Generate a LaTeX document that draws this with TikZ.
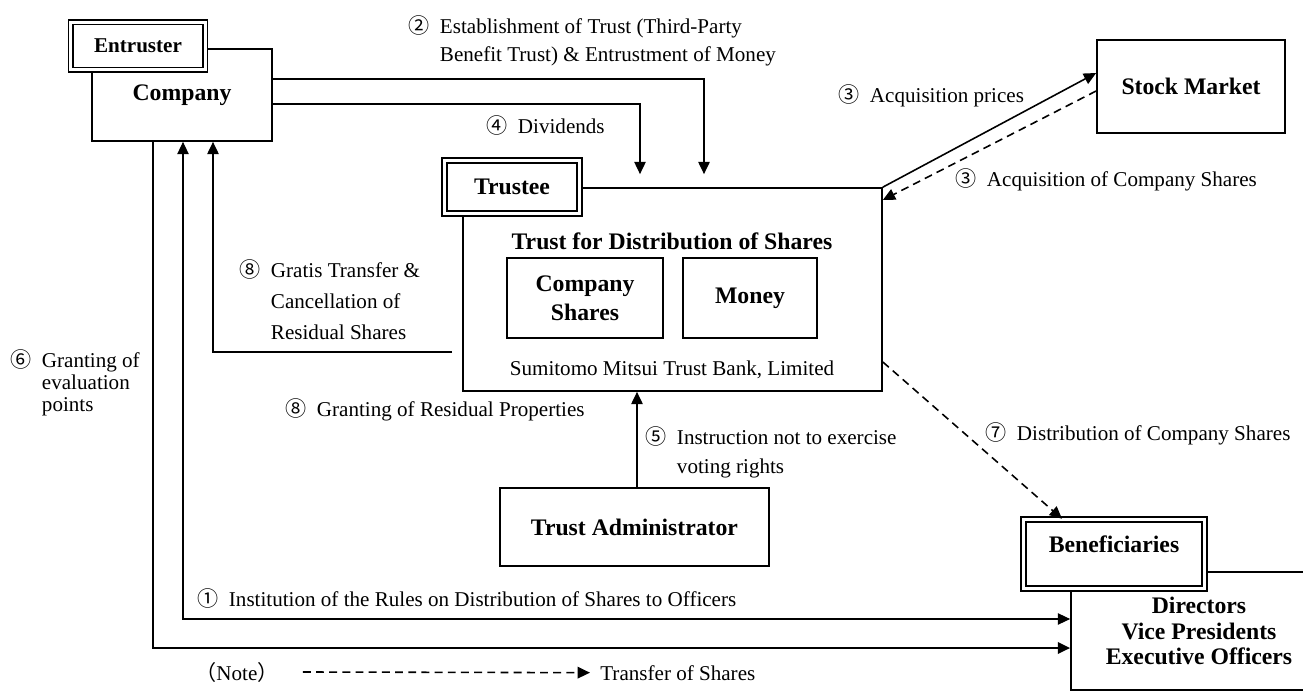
\documentclass[tikz,border=0pt]{standalone}
\usepackage{fontspec}
\setmainfont{Liberation Serif}
\newfontfamily\cjk{Noto Sans CJK JP}
\usetikzlibrary{arrows.meta, positioning, calc}
\newcommand{\circnum}[1]{{\cjk #1}\hspace{6pt}}

\begin{document}
\begin{tikzpicture}[x=0.02cm, y=-0.02cm,
    every node/.style={font=\fontsize{12}{14}\selectfont},
    box/.style={draw, line width=1pt, fill=white, inner sep=0pt},
    inbox/.style={draw, line width=0.6pt, inner sep=0pt},
    dbox/.style={draw, double, line width=0.9pt, double distance=1.8pt, fill=white, inner sep=0pt},
    hd/.style={font=\fontsize{13.5}{14.5}\selectfont\bfseries},
    lbl/.style={anchor=base west, align=left, inner sep=0pt},
    arr/.style={-{Triangle[length=7pt, width=6.5pt]}, line width=0.9pt},
    arrb/.style={{Triangle[length=7pt, width=6.5pt]}-{Triangle[length=7pt, width=6.5pt]}, line width=0.6pt},
    darr/.style={arr, dash pattern=on 4.5pt off 3pt}]

    \useasboundingbox (0,0) rectangle (1303,693);

    % Company
    \node[box, hd, minimum width=3.6cm, minimum height=1.84cm] (company) at (182,95) {Company};
    \node[dbox, font=\fontsize{12}{14}\selectfont\bfseries, minimum width=2.69cm, minimum height=0.95cm] (entruster) at (138,46) {Entruster};

    % Trust
    \node[box, minimum width=8.38cm, minimum height=4.06cm] (trust) at (672.5,289.5) {};
    \node[dbox, hd, minimum width=2.7cm, minimum height=1.06cm] (trustee) at (512,187) {Trustee};
    \node[hd] (trustname) at (672,241) {Trust for Distribution of Shares};
    \node[inbox, hd, font=\fontsize{13.5}{16.5}\selectfont\bfseries, align=center, minimum width=3.12cm, minimum height=1.6cm] (cshares) at (585,298) {Company\\Shares};
    \node[inbox, hd, minimum width=2.68cm, minimum height=1.6cm] (money) at (750,298) {Money};
    \node (bank) at (672,370) {Sumitomo Mitsui Trust Bank, Limited};

    % Market, administrator, beneficiaries
    \node[box, hd, minimum width=3.76cm, minimum height=1.86cm] (market) at (1191,86.5) {Stock Market};
    \node[box, hd, minimum width=5.38cm, minimum height=1.56cm] (admin) at (634.5,527) {Trust Administrator};
    \node[box, hd, align=center, minimum width=5.12cm, minimum height=2.36cm] (officers) at (1199,631) {Directors\\Vice Presidents\\Executive Officers};
    \node[dbox, minimum width=3.62cm, minimum height=1.38cm, label={[hd, yshift=5.5pt]center:Beneficiaries}] (benef) at (1114,554) {};

    % Trust setting and dividends
    \draw[arr, shorten >=7.4pt] (company.east |- 0,79) -| (704,0 |- trust.north);
    \draw[arr, line width=0.8pt, shorten >=7.4pt] (company.east |- 0,104) -| (640,0 |- trust.north);

    % Acquisition
    \draw[arr] (trust.north east) -- (market.west |- 0,73);
    \draw[darr] (market.west |- 0,91) -- (trust.east |- 0,200);

    % Voting rights
    \draw[arr] (637,0 |- admin.north) -- (637,0 |- trust.south);

    % Distribution
    \draw[darr] (trust.east |- 0,362) -- ([xshift=-1.04cm]benef.north);

    % Residual shares
    \coordinate (gratis) at (452,352);
    \draw[arr] (gratis) -| (213,0 |- company.south);

    % Rules and evaluation points
    \draw[arrb] (183,0 |- company.south) |- (officers.west |- 0,619);
    \draw[arr, line width=1.3pt] (153,0 |- company.south) |- (officers.west |- 0,648);

    % Labels
    \node[lbl] (l1) at (197,606) {\circnum{①}Institution of the Rules on Distribution of Shares to Officers};
    \node[lbl, font=\fontsize{12}{15.4}\selectfont] (l2) at (408,61) {\circnum{②}Establishment of Trust (Third-Party\\\hphantom{\circnum{②}}Benefit Trust) \& Entrustment of Money};
    \node[lbl] (l3a) at (838,102) {\circnum{③}Acquisition prices};
    \node[lbl] (l3b) at (955,186) {\circnum{③}Acquisition of Company Shares};
    \node[lbl] (l4) at (486,133) {\circnum{④}Dividends};
    \node[lbl, font=\fontsize{12}{16.5}\selectfont] (l5) at (645,473) {\circnum{⑤}Instruction not to exercise\\\hphantom{\circnum{⑤}}voting rights};
    \node[lbl, font=\fontsize{12}{12.5}\selectfont] (l6) at (10,411) {\circnum{⑥}Granting of\\\hphantom{\circnum{⑥}}evaluation\\\hphantom{\circnum{⑥}}points};
    \node[lbl] (l7) at (985,440) {\circnum{⑦}Distribution of Company Shares};
    \node[lbl, font=\fontsize{12}{17.6}\selectfont] (l8a) at (239,339) {\circnum{⑧}Gratis Transfer \&\\\hphantom{\circnum{⑧}}Cancellation of\\\hphantom{\circnum{⑧}}Residual Shares};
    \node[lbl] (l8b) at (285,416) {\circnum{⑧}Granting of Residual Properties};

    % Note
    \node[lbl] (note) at (195,680) {{\cjk （}Note{\cjk ）}};
    \node[lbl] (xfer) at (600,680) {Transfer of Shares};
    \draw[darr] ([xshift=0.48cm]note.east) -- ([xshift=-0.2cm]xfer.west);

\end{tikzpicture}
\end{document}
